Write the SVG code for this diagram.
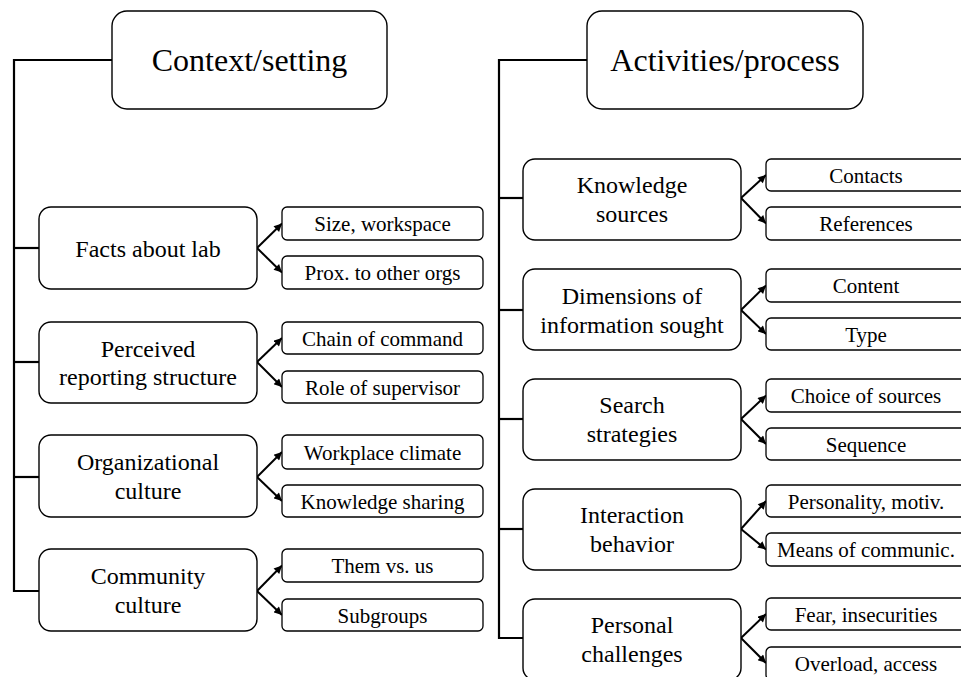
<svg xmlns="http://www.w3.org/2000/svg" width="961" height="677" viewBox="0 0 961 677">
<style>
.big{fill:#fff;stroke:#000;stroke-width:1.4}
.mid{fill:#fff;stroke:#000;stroke-width:1.4}
.sub{fill:#fff;stroke:#000;stroke-width:1.3}
text{font-family:'Liberation Serif','DejaVu Serif',serif;fill:#000;text-anchor:middle}
.t1{font-size:32px}
.t2{font-size:24px}
.t3{font-size:21px}
.ln{fill:none;stroke:#000;stroke-width:2.2}
.ar{fill:none;stroke:#000;stroke-width:2;marker-end:url(#ah)}
</style>
<defs>
<marker id="ah" viewBox="0 0 10 10" refX="10" refY="5" markerUnits="userSpaceOnUse" markerWidth="9" markerHeight="8" orient="auto">
<path d="M0,0 L10,5 L0,10 z" fill="#000"/>
</marker>
</defs>
<rect width="961" height="677" fill="#fff"/>
<g id="connectors">
<polyline class="ln" points="112,60 14,60 14,591 39,591"/>
<line class="ln" x1="14" y1="248" x2="39" y2="248"/>
<line class="ln" x1="14" y1="362" x2="39" y2="362"/>
<line class="ln" x1="14" y1="477" x2="39" y2="477"/>
<polyline class="ln" points="587,60 499,60 499,638 523,638"/>
<line class="ln" x1="499" y1="198" x2="523" y2="198"/>
<line class="ln" x1="499" y1="310" x2="523" y2="310"/>
<line class="ln" x1="499" y1="419" x2="523" y2="419"/>
<line class="ln" x1="499" y1="529" x2="523" y2="529"/>
<line class="ar" x1="257" y1="248" x2="282" y2="223.5"/>
<line class="ar" x1="257" y1="248" x2="282" y2="272.5"/>
<line class="ar" x1="257" y1="362" x2="282" y2="338"/>
<line class="ar" x1="257" y1="362" x2="282" y2="387"/>
<line class="ar" x1="257" y1="477" x2="282" y2="452"/>
<line class="ar" x1="257" y1="477" x2="282" y2="501"/>
<line class="ar" x1="257" y1="591" x2="282" y2="565.5"/>
<line class="ar" x1="257" y1="591" x2="282" y2="615"/>
<line class="ar" x1="741" y1="198" x2="766" y2="175"/>
<line class="ar" x1="741" y1="198" x2="766" y2="223.5"/>
<line class="ar" x1="741" y1="310" x2="766" y2="285.5"/>
<line class="ar" x1="741" y1="310" x2="766" y2="334"/>
<line class="ar" x1="741" y1="419" x2="766" y2="395.5"/>
<line class="ar" x1="741" y1="419" x2="766" y2="444"/>
<line class="ar" x1="741" y1="529" x2="766" y2="501"/>
<line class="ar" x1="741" y1="529" x2="766" y2="549.5"/>
<line class="ar" x1="741" y1="638" x2="766" y2="614"/>
<line class="ar" x1="741" y1="638" x2="766" y2="663"/>
</g>
<g id="context">
<rect class="big" x="112" y="11" width="275" height="98" rx="15"/>
<text class="t1" x="249.5" y="71">Context/setting</text>
</g>
<g id="activities">
<rect class="big" x="587" y="11" width="276" height="98" rx="15"/>
<text class="t1" x="725" y="71">Activities/process</text>
</g>
<g id="facts">
<rect class="mid" x="39" y="207" width="218" height="82" rx="12"/>
<text class="t2" x="148" y="256.5">Facts about lab</text>
</g>
<g id="size"><rect class="sub" x="282" y="207" width="201" height="33" rx="5"/><text class="t3" x="382.5" y="231">Size, workspace</text></g>
<g id="prox"><rect class="sub" x="282" y="256" width="201" height="33" rx="5"/><text class="t3" x="382.5" y="280">Prox. to other orgs</text></g>
<g id="perceived">
<rect class="mid" x="39" y="322" width="218" height="81" rx="12"/>
<text class="t2" x="148" y="356.5">Perceived</text>
<text class="t2" x="148" y="385">reporting structure</text>
</g>
<g id="chain"><rect class="sub" x="282" y="322" width="201" height="32" rx="5"/><text class="t3" x="382.5" y="346">Chain of command</text></g>
<g id="role"><rect class="sub" x="282" y="371" width="201" height="32" rx="5"/><text class="t3" x="382.5" y="395">Role of supervisor</text></g>
<g id="org">
<rect class="mid" x="39" y="435" width="218" height="82" rx="12"/>
<text class="t2" x="148" y="470">Organizational</text>
<text class="t2" x="148" y="499">culture</text>
</g>
<g id="workplace"><rect class="sub" x="282" y="435" width="201" height="34" rx="5"/><text class="t3" x="382.5" y="460">Workplace climate</text></g>
<g id="ksharing"><rect class="sub" x="282" y="485" width="201" height="32" rx="5"/><text class="t3" x="382.5" y="509">Knowledge sharing</text></g>
<g id="community">
<rect class="mid" x="39" y="549" width="218" height="82" rx="12"/>
<text class="t2" x="148" y="584">Community</text>
<text class="t2" x="148" y="613">culture</text>
</g>
<g id="them"><rect class="sub" x="282" y="549" width="201" height="33" rx="5"/><text class="t3" x="382.5" y="573">Them vs. us</text></g>
<g id="subgroups"><rect class="sub" x="282" y="599" width="201" height="32" rx="5"/><text class="t3" x="382.5" y="623">Subgroups</text></g>
<g id="ksources">
<rect class="mid" x="523" y="159" width="218" height="81" rx="12"/>
<text class="t2" x="632" y="193">Knowledge</text>
<text class="t2" x="632" y="222">sources</text>
</g>
<g id="contacts"><rect class="sub" x="766" y="159" width="201" height="32" rx="5"/><text class="t3" x="866" y="183">Contacts</text></g>
<g id="references"><rect class="sub" x="766" y="207" width="201" height="33" rx="5"/><text class="t3" x="866" y="231">References</text></g>
<g id="dimensions">
<rect class="mid" x="523" y="269" width="218" height="81" rx="12"/>
<text class="t2" x="632" y="304">Dimensions of</text>
<text class="t2" x="632" y="333">information sought</text>
</g>
<g id="content"><rect class="sub" x="766" y="269" width="201" height="33" rx="5"/><text class="t3" x="866" y="293">Content</text></g>
<g id="type"><rect class="sub" x="766" y="318" width="201" height="32" rx="5"/><text class="t3" x="866" y="342">Type</text></g>
<g id="search">
<rect class="mid" x="523" y="379" width="218" height="81" rx="12"/>
<text class="t2" x="632" y="413">Search</text>
<text class="t2" x="632" y="442">strategies</text>
</g>
<g id="choice"><rect class="sub" x="766" y="379" width="201" height="33" rx="5"/><text class="t3" x="866" y="403">Choice of sources</text></g>
<g id="sequence"><rect class="sub" x="766" y="428" width="201" height="32" rx="5"/><text class="t3" x="866" y="452">Sequence</text></g>
<g id="interaction">
<rect class="mid" x="523" y="489" width="218" height="81" rx="12"/>
<text class="t2" x="632" y="523">Interaction</text>
<text class="t2" x="632" y="552">behavior</text>
</g>
<g id="personality"><rect class="sub" x="766" y="485" width="201" height="32" rx="5"/><text class="t3" x="866" y="509">Personality, motiv.</text></g>
<g id="means"><rect class="sub" x="766" y="533" width="201" height="33" rx="5"/><text class="t3" x="866" y="557">Means of communic.</text></g>
<g id="personal">
<rect class="mid" x="523" y="599" width="218" height="81" rx="12"/>
<text class="t2" x="632" y="633">Personal</text>
<text class="t2" x="632" y="662">challenges</text>
</g>
<g id="fear"><rect class="sub" x="766" y="598" width="201" height="32" rx="5"/><text class="t3" x="866" y="622">Fear, insecurities</text></g>
<g id="overload"><rect class="sub" x="766" y="647" width="201" height="33" rx="5"/><text class="t3" x="866" y="671">Overload, access</text></g>
</svg>
